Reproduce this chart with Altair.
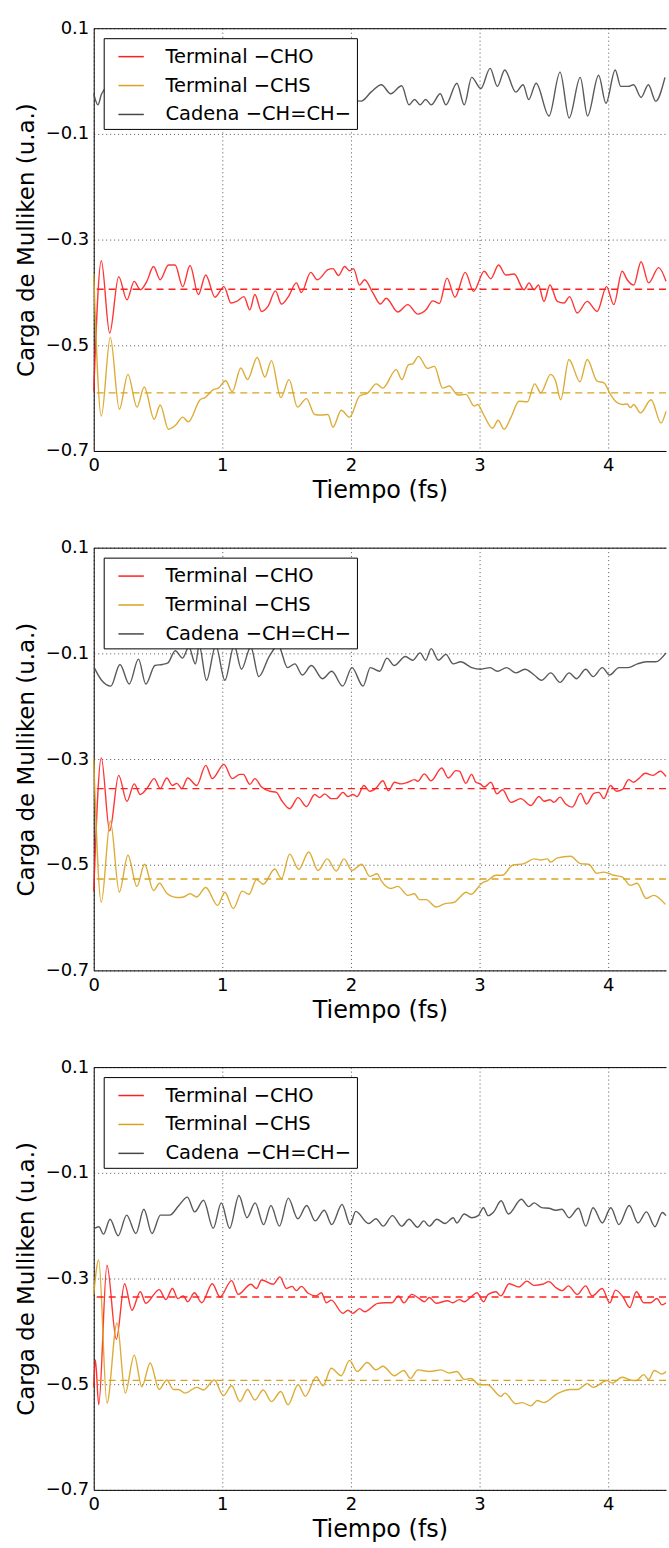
import altair as alt
import pandas as pd

SERIES = ["Terminal \u2212CHO", "Terminal \u2212CHS", "Cadena \u2212CH=CH\u2212"]
COLORS = ["#ff1f1f", "#d8a321", "#474747"]

# ---------------- panel 1 ----------------
P1_CHO = [(0.0,-0.587),(0.059,-0.340),(0.124,-0.477),(0.194,-0.370),(0.258,-0.414),(0.315,-0.379),(0.362,-0.395),
          (0.413,-0.379),(0.465,-0.351),(0.517,-0.376),(0.581,-0.348),(0.633,-0.348),(0.692,-0.389),(0.749,-0.349),
          (0.814,-0.404),(0.871,-0.367),(0.943,-0.409),(1.013,-0.389),(1.067,-0.420),(1.111,-0.417),(1.168,-0.408),
          (1.214,-0.433),(1.253,-0.404),(1.305,-0.436),(1.356,-0.426),(1.413,-0.397),(1.460,-0.422),(1.511,-0.409),
          (1.576,-0.382),(1.615,-0.400),(1.687,-0.362),(1.739,-0.376),(1.822,-0.357),(1.860,-0.355),(1.904,-0.368),
          (1.951,-0.351),(1.989,-0.359),(2.020,-0.355),(2.067,-0.386),(2.106,-0.376),(2.171,-0.401),(2.230,-0.422),
          (2.274,-0.411),(2.365,-0.437),(2.442,-0.423),(2.520,-0.441),(2.584,-0.433),(2.636,-0.416),(2.688,-0.421),
          (2.747,-0.373),(2.809,-0.409),(2.889,-0.362),(2.954,-0.398),(3.036,-0.360),(3.088,-0.374),(3.148,-0.348),
          (3.204,-0.367),(3.269,-0.365),(3.346,-0.395),(3.385,-0.382),(3.424,-0.395),(3.458,-0.386),(3.501,-0.417),
          (3.548,-0.386),(3.605,-0.417),(3.657,-0.420),(3.700,-0.408),(3.760,-0.439),(3.837,-0.417),(3.915,-0.436),
          (3.987,-0.389),(4.044,-0.423),(4.109,-0.360),(4.148,-0.376),(4.199,-0.386),(4.256,-0.342),(4.315,-0.382),
          (4.393,-0.353),(4.450,-0.379)]
P1_CHS = [(0.0,-0.365),(0.059,-0.634),(0.129,-0.485),(0.199,-0.621),(0.266,-0.555),(0.336,-0.617),(0.393,-0.579),
          (0.470,-0.640),(0.517,-0.613),(0.581,-0.659),(0.638,-0.651),(0.692,-0.636),(0.736,-0.645),(0.827,-0.603),
          (0.865,-0.599),(0.930,-0.584),(0.969,-0.581),(1.026,-0.567),(1.077,-0.588),(1.144,-0.543),(1.196,-0.565),
          (1.271,-0.523),(1.331,-0.560),(1.382,-0.529),(1.455,-0.599),(1.519,-0.565),(1.584,-0.617),(1.654,-0.601),
          (1.718,-0.631),(1.770,-0.632),(1.822,-0.631),(1.860,-0.655),(1.925,-0.623),(1.989,-0.636),(2.067,-0.596),
          (2.132,-0.590),(2.197,-0.573),(2.248,-0.581),(2.352,-0.546),(2.396,-0.565),(2.447,-0.537),(2.481,-0.535),
          (2.525,-0.521),(2.597,-0.544),(2.649,-0.540),(2.713,-0.581),(2.765,-0.577),(2.830,-0.594),(2.894,-0.593),
          (2.959,-0.615),(2.985,-0.612),(3.031,-0.631),(3.101,-0.657),(3.145,-0.642),(3.191,-0.659),(3.243,-0.637),
          (3.308,-0.606),(3.372,-0.607),(3.429,-0.573),(3.476,-0.590),(3.553,-0.555),(3.592,-0.568),(3.631,-0.603),
          (3.695,-0.527),(3.781,-0.569),(3.837,-0.527),(3.915,-0.568),(3.967,-0.571),(4.018,-0.593),(4.057,-0.606),
          (4.109,-0.612),(4.148,-0.611),(4.173,-0.618),(4.199,-0.612),(4.251,-0.628),(4.334,-0.603),(4.411,-0.647),
          (4.450,-0.625)]
P1_CAD = [(0.0,-0.024),(0.033,-0.045),(0.06,-0.025),(0.12,-0.010),(0.2,-0.040),(0.3,-0.015),(0.4,-0.045),
          (0.5,-0.020),(0.6,-0.050),(0.7,-0.020),(0.8,-0.045),(0.9,-0.020),(1.0,-0.040),(1.1,-0.010),(1.2,-0.040),
          (1.3,-0.020),(1.4,-0.050),(1.5,-0.015),(1.6,-0.045),(1.7,-0.020),(1.8,-0.040),(1.9,-0.015),(2.0,-0.035),
          (2.080,-0.038),(2.160,-0.020),(2.237,-0.007),(2.309,-0.024),(2.395,-0.009),(2.452,-0.045),(2.495,-0.035),
          (2.538,-0.045),(2.581,-0.035),(2.624,-0.045),(2.695,-0.024),(2.738,-0.045),(2.824,-0.004),(2.881,-0.045),
          (2.939,0.007),(3.010,-0.014),(3.082,0.024),(3.139,-0.010),(3.196,0.021),(3.282,-0.021),(3.339,-0.007),
          (3.382,-0.035),(3.440,-0.004),(3.540,-0.066),(3.626,0.017),(3.697,-0.070),(3.783,0.007),(3.840,-0.066),
          (3.926,0.011),(3.983,-0.042),(4.055,0.021),(4.098,-0.010),(4.155,-0.010),(4.198,-0.007),(4.256,-0.031),
          (4.313,-0.007),(4.370,-0.038),(4.442,0.007)]
P1_MEANS = [-0.394, -0.590]

# ---------------- panel 2 ----------------
P2_CHO = [(0.0,-0.550),(0.059,-0.298),(0.124,-0.436),(0.194,-0.331),(0.258,-0.380),(0.315,-0.347),(0.362,-0.367),
          (0.413,-0.356),(0.470,-0.337),(0.517,-0.356),(0.568,-0.336),(0.612,-0.350),(0.646,-0.346),(0.685,-0.356),
          (0.731,-0.336),(0.801,-0.350),(0.871,-0.312),(0.922,-0.337),(1.013,-0.310),(1.077,-0.337),(1.137,-0.329),
          (1.163,-0.329),(1.214,-0.348),(1.253,-0.337),(1.305,-0.353),(1.369,-0.361),(1.421,-0.363),(1.460,-0.378),
          (1.524,-0.394),(1.589,-0.373),(1.654,-0.390),(1.718,-0.367),(1.757,-0.373),(1.796,-0.366),(1.847,-0.375),
          (1.886,-0.375),(1.938,-0.363),(1.977,-0.371),(2.015,-0.367),(2.049,-0.371),(2.101,-0.350),(2.145,-0.361),
          (2.196,-0.355),(2.248,-0.341),(2.292,-0.360),(2.339,-0.344),(2.390,-0.347),(2.442,-0.344),(2.494,-0.339),
          (2.520,-0.342),(2.571,-0.328),(2.623,-0.341),(2.706,-0.317),(2.757,-0.336),(2.817,-0.322),(2.843,-0.323),
          (2.894,-0.346),(2.938,-0.329),(2.972,-0.344),(3.005,-0.347),(3.036,-0.353),(3.088,-0.344),(3.135,-0.366),
          (3.179,-0.358),(3.243,-0.382),(3.321,-0.375),(3.398,-0.388),(3.463,-0.371),(3.501,-0.380),(3.548,-0.377),
          (3.579,-0.382),(3.626,-0.372),(3.670,-0.385),(3.721,-0.391),(3.786,-0.365),(3.832,-0.385),(3.889,-0.365),
          (3.928,-0.363),(3.967,-0.375),(4.018,-0.350),(4.065,-0.361),(4.109,-0.358),(4.160,-0.339),(4.199,-0.344),
          (4.238,-0.337),(4.290,-0.327),(4.349,-0.331),(4.406,-0.323),(4.450,-0.333)]
P2_CHS = [(0.0,-0.300),(0.059,-0.571),(0.129,-0.417),(0.199,-0.552),(0.266,-0.482),(0.336,-0.541),(0.395,-0.499),
          (0.465,-0.549),(0.512,-0.535),(0.568,-0.554),(0.646,-0.562),(0.698,-0.561),(0.749,-0.555),(0.801,-0.561),
          (0.871,-0.543),(0.964,-0.577),(1.020,-0.552),(1.085,-0.583),(1.155,-0.550),(1.207,-0.556),(1.266,-0.528),
          (1.318,-0.537),(1.408,-0.508),(1.460,-0.526),(1.524,-0.480),(1.594,-0.509),(1.672,-0.476),(1.744,-0.511),
          (1.816,-0.489),(1.886,-0.512),(1.946,-0.489),(2.008,-0.511),(2.085,-0.499),(2.145,-0.522),(2.204,-0.517),
          (2.235,-0.530),(2.313,-0.545),(2.365,-0.541),(2.442,-0.558),(2.494,-0.555),(2.532,-0.566),(2.584,-0.566),
          (2.662,-0.580),(2.726,-0.574),(2.804,-0.571),(2.850,-0.561),(2.894,-0.552),(2.933,-0.556),(3.018,-0.535),
          (3.062,-0.530),(3.127,-0.520),(3.178,-0.520),(3.256,-0.501),(3.346,-0.498),(3.424,-0.489),(3.476,-0.491),
          (3.527,-0.489),(3.553,-0.495),(3.605,-0.487),(3.708,-0.484),(3.786,-0.498),(3.850,-0.499),(3.910,-0.516),
          (3.967,-0.514),(4.044,-0.520),(4.109,-0.523),(4.173,-0.539),(4.225,-0.535),(4.297,-0.564),(4.354,-0.558),
          (4.445,-0.575)]
P2_CAD = [(0.004,-0.127),(0.061,-0.151),(0.133,-0.162),(0.204,-0.121),(0.276,-0.158),(0.348,-0.111),(0.405,-0.158),
          (0.476,-0.123),(0.534,-0.121),(0.577,-0.118),(0.634,-0.095),(0.691,-0.109),(0.740,-0.088),(0.791,-0.120),
          (0.820,-0.085),(0.877,-0.151),(0.949,-0.085),(1.020,-0.151),(1.092,-0.085),(1.149,-0.130),(1.221,-0.088),
          (1.284,-0.144),(1.364,-0.106),(1.435,-0.085),(1.507,-0.127),(1.564,-0.120),(1.622,-0.141),(1.693,-0.123),
          (1.779,-0.148),(1.851,-0.134),(1.936,-0.162),(2.008,-0.127),(2.094,-0.162),(2.151,-0.127),(2.223,-0.134),
          (2.280,-0.109),(2.337,-0.123),(2.423,-0.106),(2.480,-0.113),(2.538,-0.099),(2.581,-0.113),(2.624,-0.091),
          (2.681,-0.113),(2.738,-0.102),(2.795,-0.120),(2.853,-0.116),(2.939,-0.127),(3.010,-0.130),(3.082,-0.127),
          (3.139,-0.134),(3.210,-0.127),(3.282,-0.137),(3.353,-0.130),(3.425,-0.141),(3.482,-0.151),(3.554,-0.137),
          (3.626,-0.155),(3.697,-0.137),(3.754,-0.148),(3.826,-0.130),(3.883,-0.144),(3.955,-0.127),(4.012,-0.141),
          (4.084,-0.127),(4.155,-0.127),(4.227,-0.120),(4.298,-0.116),(4.370,-0.116),(4.450,-0.099)]
P2_MEANS = [-0.356, -0.527]

# ---------------- panel 3 ----------------
P3_CHO = [(0.0,-0.505),(0.013,-0.454),(0.039,-0.539),(0.103,-0.275),(0.176,-0.415),(0.240,-0.310),(0.297,-0.360),
          (0.362,-0.325),(0.405,-0.347),(0.509,-0.321),(0.561,-0.340),(0.612,-0.319),(0.654,-0.338),(0.697,-0.333),
          (0.731,-0.344),(0.783,-0.327),(0.840,-0.346),(0.922,-0.310),(0.982,-0.335),(1.072,-0.304),(1.124,-0.330),
          (1.222,-0.311),(1.266,-0.319),(1.305,-0.303),(1.395,-0.311),(1.447,-0.297),(1.499,-0.319),(1.543,-0.315),
          (1.576,-0.323),(1.615,-0.315),(1.667,-0.328),(1.731,-0.333),(1.770,-0.327),(1.809,-0.346),(1.847,-0.341),
          (1.938,-0.366),(1.977,-0.360),(2.015,-0.366),(2.067,-0.357),(2.106,-0.363),(2.209,-0.347),(2.261,-0.346),
          (2.318,-0.346),(2.370,-0.333),(2.411,-0.346),(2.473,-0.330),(2.532,-0.338),(2.571,-0.344),(2.610,-0.336),
          (2.662,-0.347),(2.752,-0.342),(2.791,-0.346),(2.843,-0.340),(2.881,-0.344),(2.933,-0.335),(2.980,-0.327),
          (3.031,-0.344),(3.067,-0.330),(3.127,-0.325),(3.166,-0.333),(3.230,-0.310),(3.308,-0.316),(3.367,-0.305),
          (3.424,-0.313),(3.489,-0.311),(3.540,-0.306),(3.592,-0.317),(3.644,-0.323),(3.690,-0.314),(3.760,-0.330),
          (3.825,-0.314),(3.876,-0.333),(3.954,-0.319),(4.013,-0.346),(4.057,-0.322),(4.116,-0.335),(4.168,-0.355),
          (4.220,-0.325),(4.277,-0.346),(4.328,-0.346),(4.380,-0.338),(4.419,-0.350),(4.450,-0.346)]
P3_CHS = [(0.0,-0.330),(0.039,-0.265),(0.103,-0.536),(0.181,-0.384),(0.245,-0.517),(0.315,-0.445),(0.374,-0.505),
          (0.439,-0.460),(0.509,-0.510),(0.568,-0.492),(0.620,-0.510),(0.659,-0.510),(0.710,-0.517),(0.801,-0.506),
          (0.853,-0.511),(0.938,-0.492),(1.008,-0.522),(1.072,-0.503),(1.137,-0.533),(1.196,-0.510),(1.253,-0.530),
          (1.318,-0.511),(1.382,-0.533),(1.455,-0.514),(1.511,-0.539),(1.589,-0.501),(1.646,-0.523),(1.731,-0.486),
          (1.783,-0.503),(1.847,-0.470),(1.925,-0.484),(1.989,-0.455),(2.049,-0.476),(2.127,-0.459),(2.196,-0.473),
          (2.248,-0.466),(2.339,-0.484),(2.411,-0.474),(2.463,-0.489),(2.520,-0.473),(2.610,-0.476),(2.700,-0.473),
          (2.765,-0.479),(2.824,-0.476),(2.881,-0.491),(2.933,-0.489),(2.998,-0.501),(3.062,-0.501),(3.166,-0.523),
          (3.197,-0.517),(3.282,-0.537),(3.333,-0.535),(3.398,-0.541),(3.450,-0.531),(3.501,-0.535),(3.605,-0.518),
          (3.708,-0.510),(3.765,-0.510),(3.837,-0.499),(3.884,-0.506),(3.992,-0.493),(4.031,-0.498),(4.109,-0.487),
          (4.173,-0.492),(4.220,-0.493),(4.277,-0.482),(4.315,-0.491),(4.359,-0.474),(4.419,-0.481),(4.450,-0.476)]
P3_CAD = [(0.004,-0.205),(0.040,-0.202),(0.076,-0.216),(0.127,-0.188),(0.190,-0.219),(0.256,-0.180),(0.328,-0.215),
          (0.390,-0.169),(0.453,-0.215),(0.519,-0.180),(0.591,-0.180),(0.662,-0.162),(0.728,-0.146),(0.785,-0.174),
          (0.854,-0.152),(0.929,-0.205),(0.992,-0.157),(1.057,-0.205),(1.129,-0.143),(1.192,-0.185),(1.255,-0.157),
          (1.321,-0.198),(1.378,-0.162),(1.444,-0.201),(1.513,-0.148),(1.587,-0.187),(1.656,-0.162),(1.722,-0.191),
          (1.793,-0.171),(1.851,-0.198),(1.931,-0.160),(1.994,-0.198),(2.037,-0.173),(2.137,-0.196),(2.194,-0.187),
          (2.251,-0.201),(2.323,-0.181),(2.395,-0.201),(2.452,-0.188),(2.518,-0.203),(2.566,-0.191),(2.609,-0.201),
          (2.667,-0.188),(2.732,-0.196),(2.795,-0.185),(2.824,-0.195),(2.881,-0.178),(2.939,-0.185),(2.990,-0.181),
          (3.030,-0.166),(3.067,-0.181),(3.110,-0.174),(3.168,-0.153),(3.225,-0.178),(3.325,-0.150),(3.382,-0.164),
          (3.425,-0.157),(3.483,-0.166),(3.540,-0.167),(3.591,-0.171),(3.640,-0.169),(3.697,-0.185),(3.769,-0.167),
          (3.826,-0.201),(3.883,-0.166),(3.955,-0.195),(4.021,-0.166),(4.084,-0.198),(4.164,-0.162),(4.232,-0.195),
          (4.298,-0.174),(4.364,-0.202),(4.421,-0.175),(4.450,-0.181)]
P3_MEANS = [-0.335, -0.493]

X_TICKS = [0, 1, 2, 3, 4]
Y_TICKS = [0.1, -0.1, -0.3, -0.5, -0.7]
X_DOMAIN = [0, 4.45]
Y_DOMAIN = [-0.7, 0.1]
FONT = "DejaVu Sans"


def y_axis():
    return alt.Axis(
        orient="left", values=Y_TICKS, format=".1f", title="Carga de Mulliken (u.a.)",
        grid=True, gridDash=[1, 3], gridColor="#555", gridWidth=1,
        ticks=False, labelPadding=5, titlePadding=7, labelFlush=False,
        labelFont=FONT, labelFontSize=18, labelColor="black",
        titleFont=FONT, titleFontSize=23, titleFontWeight="normal", titleColor="black",
        domainColor="black")


def panel(series_list, means):
    rows = []
    for name, pts in zip(SERIES, series_list):
        for t, v in pts:
            rows.append({"t": t, "v": v, "serie": name})
    df = pd.DataFrame(rows)
    xs = alt.Scale(domain=X_DOMAIN, nice=False, zero=False)
    ys = alt.Scale(domain=Y_DOMAIN, nice=False, zero=False)

    lines = alt.Chart(df).mark_line(interpolate="monotone", strokeWidth=1.4, strokeOpacity=0.9).encode(
        x=alt.X("t:Q", scale=xs, axis=alt.Axis(
            orient="bottom", values=X_TICKS, format="d", title="Tiempo (fs)",
            grid=True, gridDash=[1, 3], gridColor="#555", gridWidth=1,
            ticks=False, labelPadding=6, titlePadding=4, labelFlush=False,
            labelFont=FONT, labelFontSize=18, labelColor="black",
            titleFont=FONT, titleFontSize=24, titleFontWeight="normal", titleColor="black",
            domainColor="black")),
        y=alt.Y("v:Q", scale=ys, axis=y_axis()),
        color=alt.Color("serie:N", scale=alt.Scale(domain=SERIES, range=COLORS), legend=alt.Legend(
            title=None, orient="top-left", offset=10, symbolType="stroke", symbolSize=650,
            symbolStrokeWidth=1.5, symbolOffset=9, labelFontSize=19.5, labelFont=FONT, labelColor="black",
            padding=5, rowPadding=6, labelOffset=21, fillColor="white", strokeColor="black",
            cornerRadius=0, labelLimit=400)),
        detail="serie:N",
        order=alt.Order("t:Q"),
    )

    layers = [lines]
    for i, m in enumerate(means):
        mdf = pd.DataFrame({"v": [m]})
        layers.append(
            alt.Chart(mdf).mark_rule(color=COLORS[i], strokeDash=[7, 5], strokeWidth=1.3)
            .encode(y=alt.Y("v:Q", scale=ys, axis=y_axis()))
        )

    top = alt.Chart(df).mark_line(strokeOpacity=0).encode(
        x=alt.X("t:Q", scale=xs, axis=alt.Axis(orient="top", labels=False, ticks=False, grid=False,
                                                title=None, domainColor="black")),
        y=alt.Y("v:Q", scale=ys, axis=y_axis()),
        detail="serie:N",
    )
    layers.append(top)
    return alt.layer(*layers).resolve_axis(x="independent").properties(width=574, height=424)


chart = alt.vconcat(
    panel([P1_CHO, P1_CHS, P1_CAD], P1_MEANS),
    panel([P2_CHO, P2_CHS, P2_CAD], P2_MEANS),
    panel([P3_CHO, P3_CHS, P3_CAD], P3_MEANS),
    spacing=36,
).resolve_scale(color="independent").resolve_legend(color="independent").properties(
    padding={"left": 15, "top": 17, "right": 0, "bottom": 0},
    background="white",
).configure_view(stroke=None)

chart.save("out.html", embed_options={"renderer": "svg", "actions": False})
